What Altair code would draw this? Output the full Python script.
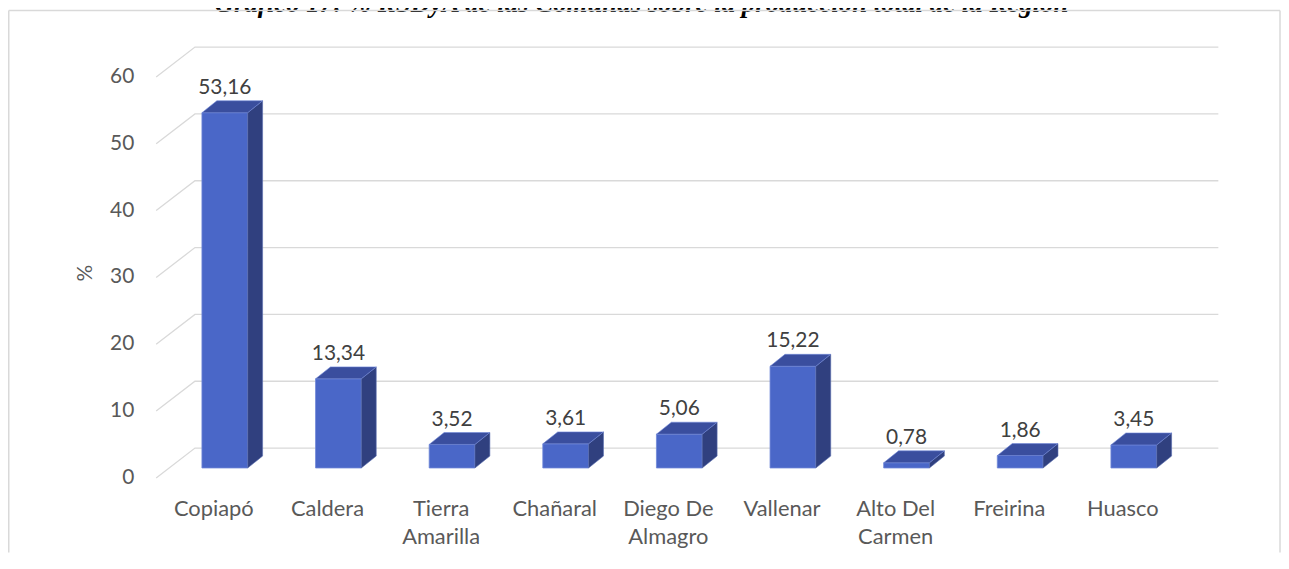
import altair as alt
import pandas as pd

# ---- data ----
comunas = ["Copiapó", "Caldera", "Tierra\nAmarilla", "Chañaral", "Diego De\nAlmagro",
           "Vallenar", "Alto Del\nCarmen", "Freirina", "Huasco"]
valores = [53.16, 13.34, 3.52, 3.61, 5.06, 15.22, 0.78, 1.86, 3.45]
ticks = [0, 10, 20, 30, 40, 50, 60]
titulo = "Gráfico 17: % RSDyA de las Comunas sobre la producción total de la Región"
eje_y = "%"

# ---- 3D styling (in scale units) ----
HALF = 0.2013     # half bar width (category units)
DX = 0.1313       # depth shift x (category units)
DY = 1.786        # depth shift y (value units)
FONT = "Lato"

xs = alt.Scale(domain=[0, 8], range=[218, 1132])
ys = alt.Scale(domain=[0, 60], range=[461, 57.8])

rows = []
for i, (c, v) in enumerate(zip(comunas, valores)):
    rows.append(dict(i=i, c=c, v=v, label=f"{v:.2f}".replace(".", ",")))
bars = pd.DataFrame(rows)

side = []
for i, v in enumerate(valores):
    side.append(dict(k=i, x=i + HALF, top=v, bot=0))
    side.append(dict(k=i, x=i + HALF + DX, top=v + DY, bot=DY))
side = pd.DataFrame(side)

topf = []
for i, v in enumerate(valores):
    topf.append(dict(k=i, y=v, x1=i - HALF, x2=i + HALF))
    topf.append(dict(k=i, y=v + DY, x1=i - HALF + DX, x2=i + HALF + DX))
topf = pd.DataFrame(topf)

grid = []
for t in ticks:
    grid.append(dict(t=t, o=0, x=-0.604, y=t - 1.488))
    grid.append(dict(t=t, o=1, x=-0.2626, y=t + 2.976))
    grid.append(dict(t=t, o=2, x=8.744, y=t + 2.976))
grid = pd.DataFrame(grid)

tickdf = pd.DataFrame(dict(t=ticks, y=[t - 1.488 for t in ticks], lab=[str(t) for t in ticks]))

X = lambda f: alt.X(f, type="quantitative", scale=xs, axis=None)
Y = lambda f: alt.Y(f, type="quantitative", scale=ys, axis=None)

grid_l = alt.Chart(grid).mark_line(color="#D9D9D9", strokeWidth=1.3).encode(
    x=X("x"), y=Y("y"), detail="t:N", order="o:Q")

tick_l = alt.Chart(tickdf).mark_text(align="right", baseline="middle", font=FONT,
                                     fontSize=21, color="#595959").encode(
    x=alt.value(127), y=Y("y"), text="lab:N")

front = alt.Chart(bars).transform_calculate(
    x1=f"datum.i - {HALF}", x2=f"datum.i + {HALF}", z="0"
).mark_rect(color="#4A67C8", stroke="#6F87D8", strokeWidth=0.8).encode(
    x=X("x1:Q"), x2="x2:Q", y=Y("v:Q"), y2="z:Q")

side_l = alt.Chart(side).mark_area(color="#30407F", stroke="#5A6DB0", strokeWidth=0.6,
                                   interpolate="linear").encode(
    x=X("x"), y=Y("top"), y2="bot:Q", detail="k:N")

top_l = alt.Chart(topf).mark_area(orient="horizontal", color="#3A4E9E", stroke="#6F87D8",
                                  strokeWidth=0.6).encode(
    y=Y("y"), x=X("x1"), x2="x2:Q", detail="k:N")

vlab = alt.Chart(bars).transform_calculate(yy=f"datum.v + 3.72").mark_text(
    baseline="middle", font=FONT, fontSize=21, color="#404040").encode(
    x=X("i:Q"), y=Y("yy:Q"), text="label:N")

clab = alt.Chart(bars).transform_calculate(xx="datum.i - 0.0963").mark_text(
    baseline="alphabetic", font=FONT, fontSize=22, color="#595959",
    lineBreak="\n", lineHeight=28).encode(
    x=X("xx:Q"), y=alt.value(509), text="c:N")

ytitle = alt.Chart(pd.DataFrame(dict(t=[eje_y]))).mark_text(
    angle=270, font=FONT, fontSize=21, color="#595959", baseline="middle").encode(
    x=alt.value(78), y=alt.value(265), text="t:N")

ttl = alt.Chart(pd.DataFrame(dict(t=[titulo]))).mark_text(
    font="Liberation Serif", fontStyle="italic", fontWeight="bold", fontSize=27,
    color="#000000", baseline="alphabetic").encode(
    x=alt.value(637), y=alt.value(3), text="t:N")

border = alt.Chart(pd.DataFrame(dict(a=[0]))).mark_rule(color="#D9D9D9", strokeWidth=1.5)
b_left = border.encode(x=alt.value(0.75), y=alt.value(1), y2=alt.value(546))
b_top = border.encode(x=alt.value(0.75), x2=alt.value(1279), y=alt.value(1))
b_right = border.encode(x=alt.value(1279), y=alt.value(1), y2=alt.value(546))

chart = alt.layer(
    grid_l, tick_l, front, side_l, top_l, vlab, clab, ytitle, ttl, b_left, b_top, b_right
).properties(
    width=1280, height=546, autosize=alt.AutoSizeParams(type="none"), padding=0
).configure(background="#FFFFFF").configure_view(stroke=None)

chart.save("out.html", embed_options={"renderer": "svg", "actions": False})
